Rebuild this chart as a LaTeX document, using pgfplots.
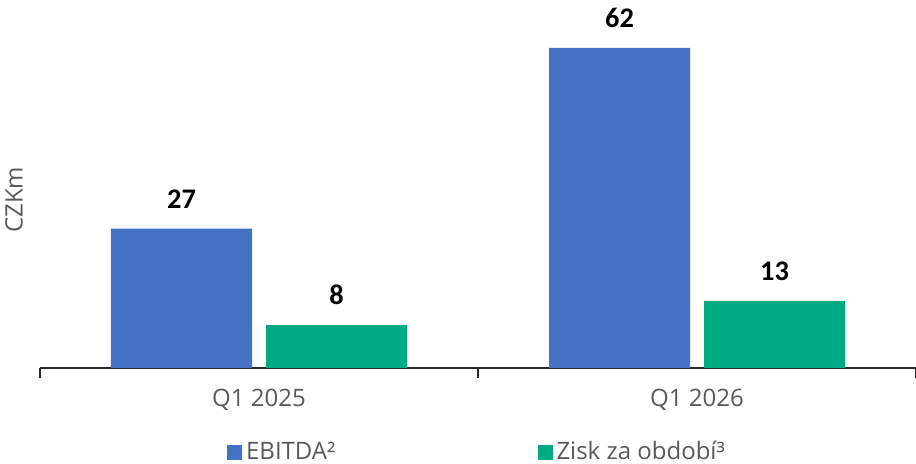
\documentclass[border=0pt]{standalone}
\usepackage{fontspec}
\setmainfont{Open Sans}
\newfontfamily\valfont{Carlito}
\usepackage{pgfplots}
\pgfplotsset{compat=1.18}
\definecolor{cblue}{HTML}{4472C4}
\definecolor{cgreen}{HTML}{00AB84}
\definecolor{tgray}{HTML}{595959}
\begin{document}
\begin{tikzpicture}
\begin{axis}[name=ax, scale only axis, width=438pt, height=180pt,
  ybar=7pt, bar width=70.5pt,
  xmin=-0.5, xmax=1.5, ymin=0, ymax=69.75,
  axis lines*=left,
  y axis line style={draw=none},
  x axis line style={black!85, line width=0.8pt},
  ytick=\empty,
  xtick={0,1}, xticklabels={Q1 2025, Q1 2026}, major tick length=0pt,
  extra x ticks={-0.5,0.5,1.5}, extra x tick labels={},
  extra x tick style={major tick length=5pt, tick align=outside, tick style={black!85, line width=0.8pt}},
  xticklabel style={font=\fontsize{12}{14}\selectfont, text=tgray, yshift=-7pt},
  ylabel={CZKm},
  ylabel style={at={(axis description cs:-0.0114,0.467)}, anchor=south, font=\fontsize{12}{14}\selectfont, text=tgray},
  nodes near coords,
  nodes near coords style={font={\valfont\bfseries\fontsize{14.2}{16}\selectfont}, text=black, anchor=south, inner sep=0pt, yshift=10pt},
  /pgf/number format/fixed, /pgf/number format/precision=0,
  /pgf/number format/assume math mode=true,
  legend style={at={(axis description cs:0.5,0)}, anchor=center, yshift=-42pt, draw=none, fill=none,
    font=\fontsize{12}{14}\selectfont, text=tgray, legend columns=2,
    /tikz/every even column/.append style={column sep=99pt}},
  legend image code/.code={\fill[#1,draw=none] (0pt,-4.25pt) rectangle (7.5pt,3.25pt);},
]
\addplot[fill=cblue, draw=none] coordinates {(0,27) (1,62)};
\addlegendentry{EBITDA²}
\addplot[fill=cgreen, draw=none] coordinates {(0,8.3) (1,13)};
\addlegendentry{Zisk za období³}
\end{axis}
\pgfresetboundingbox
\path[use as bounding box] ([shift={(-20pt,-48pt)}]ax.south west) rectangle ([shift={(0pt,4pt)}]ax.north east);
\end{tikzpicture}
\end{document}
